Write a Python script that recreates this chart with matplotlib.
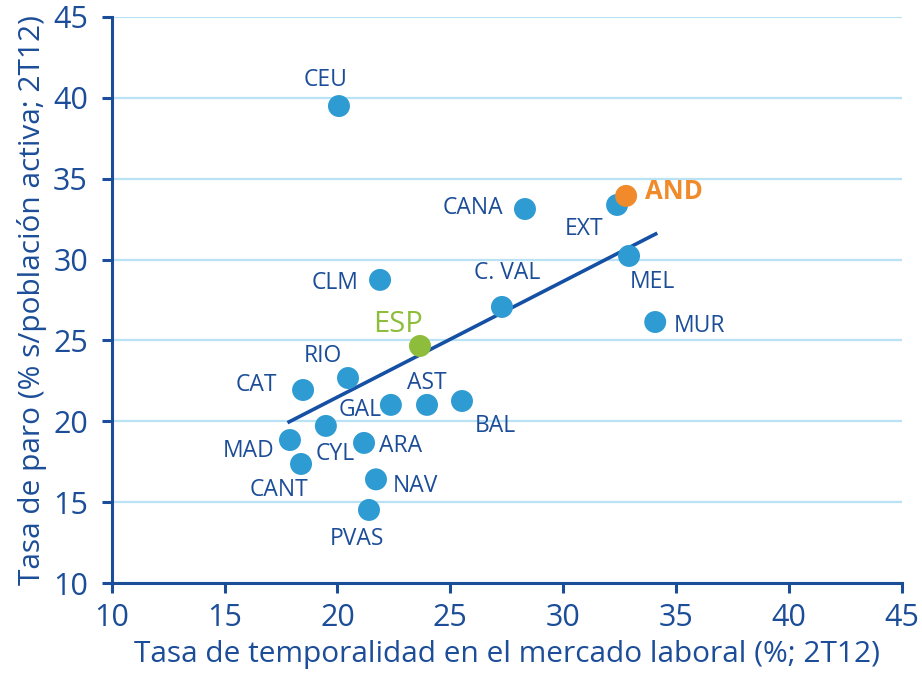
import matplotlib
matplotlib.use("Agg")
import matplotlib.pyplot as plt

# regional data (2T12)
regions = ["CEU", "CANA", "EXT", "AND", "MEL", "MUR", "CLM", "C. VAL", "ESP",
           "RIO", "CAT", "GAL", "AST", "BAL", "CYL", "ARA", "MAD", "CANT",
           "NAV", "PVAS"]
temporalidad = [20.07, 28.31, 32.39, 32.79, 32.92, 34.08, 21.89, 27.29, 23.66,
                20.47, 18.48, 22.37, 23.97, 25.52, 19.49, 21.18, 17.90, 18.39,
                21.71, 21.40]
paro = [39.48, 33.12, 33.37, 33.93, 30.22, 26.14, 28.74, 27.07, 24.66,
        22.68, 21.94, 21.02, 21.02, 21.26, 19.72, 18.67, 18.85, 17.37,
        16.42, 14.53]

# trend line end points
trend_x = [17.86, 34.10]
trend_y = [19.97, 31.58]

x_ticks = [10, 15, 20, 25, 30, 35, 40, 45]
y_ticks = [10, 15, 20, 25, 30, 35, 40, 45]

DARK = "#1c4d98"
DOT = "#2e9bd3"
GRID = "#b9e3f5"
ORANGE = "#f08a2a"
GREEN = "#8dbd3a"

# label offsets in pixels (dx right, dy down) from each point
label_off = {
    "CEU": (-13, -26), "CANA": (-52, -1), "EXT": (-33, 24), "AND": (48, -4),
    "MEL": (23, 26), "MUR": (44, 4), "CLM": (-45, 3), "C. VAL": (5, -34),
    "ESP": (-22, -21), "RIO": (-25, -22), "CAT": (-47, -5), "GAL": (-31, 5),
    "AST": (0, -22), "BAL": (33, 25), "CYL": (9, 28), "ARA": (37, 3),
    "MAD": (-41, 11), "CANT": (-22, 26), "NAV": (39, 7), "PVAS": (-12, 29),
}

plt.rcParams["font.family"] = ["Open Sans", "DejaVu Sans"]

fig = plt.figure(figsize=(9.22, 6.73), dpi=100)
ax = fig.add_axes([0.1211, 0.1333, 0.978 - 0.1211, 0.9752 - 0.1333])

colors = []
for r in regions:
    if r == "AND":
        colors.append(ORANGE)
    elif r == "ESP":
        colors.append(GREEN)
    else:
        colors.append(DOT)

ax.plot(trend_x, trend_y, color="#1550a5", linewidth=2.6, zorder=3)

# draw AND last so it sits on top of EXT
order = [i for i, r in enumerate(regions) if r != "AND"] + [regions.index("AND")]
ax.scatter([temporalidad[i] for i in order], [paro[i] for i in order],
           s=250, c=[colors[i] for i in order], linewidths=0, zorder=4)

for name, x, y in zip(regions, temporalidad, paro):
    dx, dy = label_off[name]
    kw = dict(color=DARK, fontsize=16.5)
    if name == "AND":
        kw = dict(color=ORANGE, fontsize=18.5, fontweight="bold")
    elif name == "ESP":
        kw = dict(color=GREEN, fontsize=21)
    ax.annotate(name, (x, y), xytext=(dx * 0.72, -dy * 0.72),
                textcoords="offset points", ha="center", va="center",
                zorder=5, **kw)

ax.set_xlim(10, 45)
ax.set_ylim(10, 45)
ax.set_xticks(x_ticks)
ax.set_yticks(y_ticks)
ax.yaxis.grid(True, color=GRID, linewidth=1.6)
ax.set_axisbelow(True)

for s in ["top", "right"]:
    ax.spines[s].set_visible(False)
for s in ["left", "bottom"]:
    ax.spines[s].set_color(DARK)
    ax.spines[s].set_linewidth(2.2)
ax.tick_params(colors=DARK, labelsize=22, width=2.2, length=7, direction="out")
ax.tick_params(axis="x", pad=7)
ax.tick_params(axis="y", pad=10)

ax.set_xlabel("Tasa de temporalidad en el mercado laboral (%; 2T12)",
              color=DARK, fontsize=21.5, labelpad=5)
ax.set_ylabel("Tasa de paro (% s/población activa; 2T12)",
              color=DARK, fontsize=21.5, labelpad=4)

fig.savefig("out.png", dpi=100)
